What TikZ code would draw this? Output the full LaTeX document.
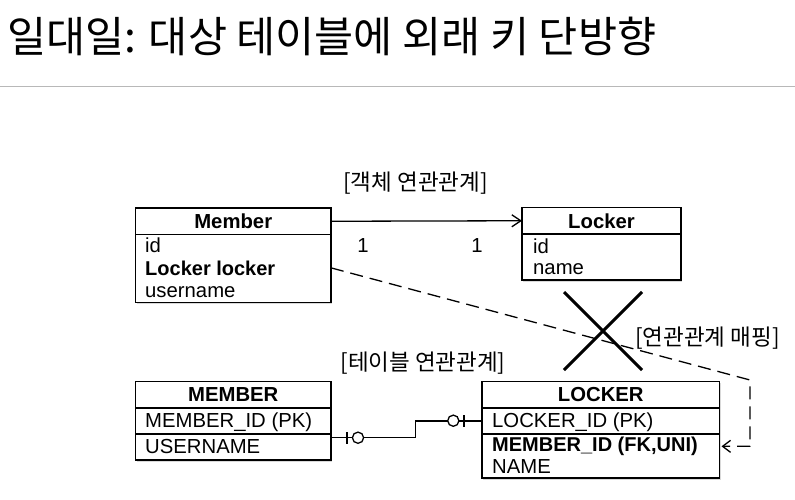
\documentclass[tikz,border=0pt]{standalone}
\usepackage{fontspec}
\setmainfont{Liberation Sans}
\newfontfamily\kr{Noto Sans CJK KR}
\usetikzlibrary{arrows.meta,shadows,positioning}

\begin{document}
\begin{tikzpicture}[x=1pt,y=-1pt,
    tbl/.style={draw, line width=1.3pt, fill=white, outer sep=0pt,
      drop shadow={shadow xshift=1.2pt, shadow yshift=-1.6pt, opacity=0.3}},
    hdr/.style={font=\bfseries\fontsize{20.3}{21}\selectfont},
    fld/.style={anchor=base west, font=\fontsize{20.3}{21}\selectfont},
    fldb/.style={anchor=base west, font=\bfseries\fontsize{20}{21}\selectfont},
    lbl/.style={font=\kr\fontsize{22.5}{24}\selectfont},
    link/.style={line width=1.3pt},
  ]
    \tikzstyle{every node}+=[inner sep=0pt]
    \useasboundingbox (0,0) rectangle (795,499);
    % title
    \node[anchor=west, font=\kr\fontsize{42.5}{44}\selectfont] (title) at (7,36)
      {일대일: 대상 테이블에 외래 키 단방향};
    \draw [line width=1.3pt, black!28] (0,86.5) -- (795,86.5);
    % objects
    \node[lbl] (objlabel) at (415.5,183) {[객체 연관관계]};
    \node[tbl, hdr, minimum width=195.5, minimum height=26.5] (memberh) at (233.25,221.25) {Member};
    \node[tbl, minimum width=195.5, minimum height=68, below=0pt of memberh] (memberb) {};
    \node[fld] (mid) at (145,252.7) {id};
    \node[fldb] (mlocker) at (145,275) {Locker locker};
    \node[fld] (muser) at (145,297) {username};
    \node[tbl, hdr, minimum width=159, minimum height=26.5] (lockerh) at (601.5,220.75) {Locker};
    \node[tbl, minimum width=159, minimum height=46, below=0pt of lockerh] (lockerb) {};
    \node[fld] (lid) at (533,253) {id};
    \node[fld] (lname) at (533,274) {name};
    \draw [link, -{Straight Barb[length=9pt, width=12pt]}] (memberh.east) -- (lockerh.west);
    \node[font=\fontsize{20.3}{21}\selectfont] (mult1) at (363,246) {1};
    \node[font=\fontsize{20.3}{21}\selectfont] (mult2) at (477,246) {1};
    % tables
    \node[lbl] (tbllabel) at (423,363) {[테이블 연관관계]};
    \node[tbl, hdr, minimum width=195.5, minimum height=26.3] (MEMBERh) at (233.25,394.85) {MEMBER};
    \node[tbl, minimum width=195.5, minimum height=26, below=0pt of MEMBERh] (MEMBERpk) {};
    \node[tbl, minimum width=195.5, minimum height=26, below=0pt of MEMBERpk] (MEMBERb) {};
    \node[fld] (Mid) at (145,427.5) {MEMBER\_ID (PK)};
    \node[fld] (Muser) at (145,453.3) {USERNAME};
    \node[tbl, hdr, minimum width=237.5, minimum height=26.3] (LOCKERh) at (600.75,394.85) {LOCKER};
    \node[tbl, minimum width=237.5, minimum height=26, below=0pt of LOCKERh] (LOCKERpk) {};
    \node[tbl, minimum width=237.5, minimum height=44, below=0pt of LOCKERpk] (LOCKERb) {};
    \node[fld] (Lid) at (492,427) {LOCKER\_ID (PK)};
    \node[fldb] (Lfk) at (492,451.5) {MEMBER\_ID (FK,UNI)};
    \node[fld] (Lname) at (492,473) {NAME};
    % crow's foot link
    \coordinate (fkstart) at (331,437.7);
    \coordinate (fkstep) at (415.7,437.7);
    \draw [link] (fkstart) -- (fkstep) |- (LOCKERpk.west);
    \draw [link] (347,432) -- (347,444);
    \draw [link, fill=white] (358,437.7) circle (5.6);
    \draw [link] (464,415) -- (464,427);
    \draw [link, fill=white] (453.3,420.7) circle (5.6);
    % mapping
    \node[lbl] (maplabel) at (707.5,338) {[연관관계 매핑]};
    \coordinate (bend) at (750,380);
    \draw [link, dash pattern=on 13pt off 7pt, shorten >=2pt, -{Straight Barb[length=8pt, width=12pt]}]
      (mlocker.east -| memberb.east) -- (bend) |- (Lfk.east -| LOCKERb.east);
    \draw [line width=3pt] (564,292) -- (642,370);
    \draw [line width=3pt] (642,292) -- (564,370);
\end{tikzpicture}
\end{document}
